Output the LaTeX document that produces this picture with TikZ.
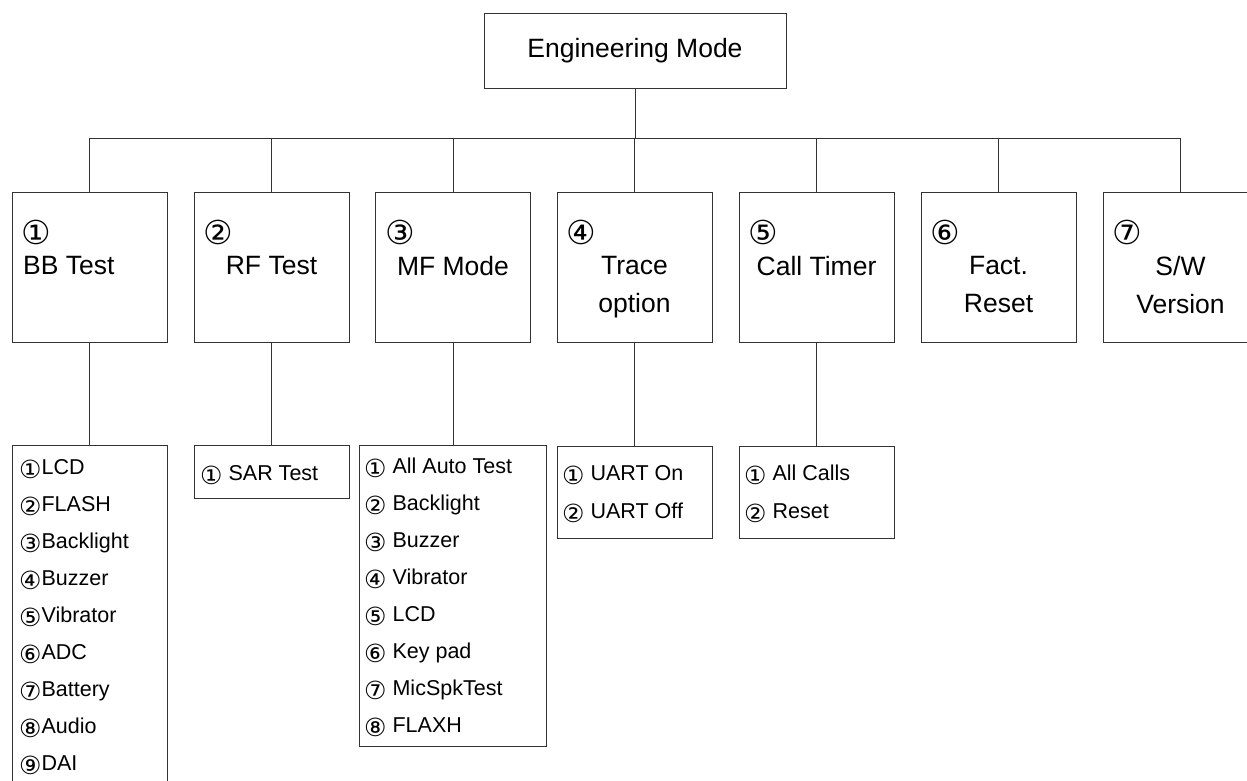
\documentclass[tikz,border=0pt]{standalone}
\usepackage{fontspec}
\setmainfont{Liberation Sans}
\newfontfamily\circfont{DejaVu Sans}
\usetikzlibrary{positioning}

\tikzset{
  box/.style={draw=black!80, line width=0.9pt, inner sep=0pt, minimum width=155pt},
  head/.style={font=\fontsize{26.5}{38}\selectfont, inner sep=0pt, align=center},
  num/.style={font=\circfont\fontsize{33}{33}\selectfont, inner sep=0pt, anchor=west},
  item/.style={font=\fontsize{21.5}{26}\selectfont, inner sep=0pt, anchor=base west},
  link/.style={draw=black!80, line width=0.9pt}
}
\newcommand{\subnum}[1]{\raisebox{-4pt}{\circfont\fontsize{25}{25}\selectfont #1}}

\begin{document}
\begin{tikzpicture}[x=1pt, y=-1pt]
\useasboundingbox (0,0) rectangle (1247,780);

% Top box
\node[box, minimum width=302pt, minimum height=75pt, font=\fontsize{26.5}{30}\selectfont] (eng) at (635,50.5) {Engineering Mode};
\coordinate (bus) at (0,138);

% Menu boxes
\foreach \nm/\cx/\c/\t/\tx/\ta in {bb/89.5/①/{BB Test}/23/north west, rf/271.5/②/{RF Test}/271.5/north,
    mf/453/③/{MF Mode}/453/north, tr/634.5/④/{Trace\\option}/634.5/north,
    ct/816.5/⑤/{Call Timer}/816.5/north, fr/998.5/⑥/{Fact.\\Reset}/998.5/north,
    sw/1180.5/⑦/{S/W\\Version}/1180.5/north}{
  \node[box, minimum height=150pt] (\nm) at (\cx,267) {};
  \node[num] (\nm-num) at (\cx-68,232) {\c};
  \node[head, anchor=\ta] (\nm-txt) at (\tx,256) {\t};
  \draw[link] (\nm.north) -- (\nm.north |- bus);
}
\draw[link] (eng.south) -- (eng.south |- bus);
\draw[link] (bb.north |- bus) -- (sw.north |- bus);

% BB Test list
\node[box, minimum height=345pt, anchor=north] (bb-sub) at (89.5,445) {};
\foreach \c/\t [count=\i from 0] in {①/LCD, ②/FLASH, ③/Backlight, ④/Buzzer, ⑤/Vibrator,
    ⑥/ADC, ⑦/Battery, ⑧/Audio, ⑨/DAI}
  \node[item] (bb-i\i) at (19,474+37*\i) {\subnum{\c}\t};

% RF Test list
\node[box, minimum height=53pt, anchor=north] (rf-sub) at (271.5,445) {};
\node[item] (rf-i0) at (200,480) {\subnum{①} SAR Test};

% MF Mode list
\node[box, minimum width=187pt, minimum height=301pt, anchor=north] (mf-sub) at (453,445) {};
\foreach \c/\t [count=\i from 0] in {①/All Auto Test, ②/Backlight, ③/Buzzer, ④/Vibrator,
    ⑤/LCD, ⑥/Key pad, ⑦/MicSpkTest, ⑧/FLAXH}
  \node[item] (mf-i\i) at (364,473+37*\i) {\subnum{\c} \t};

% Trace option list
\node[box, minimum height=92pt, anchor=north] (tr-sub) at (634.5,446) {};
\node[item] (tr-i0) at (562,480) {\subnum{①} UART On};
\node[item] (tr-i1) at (562,518) {\subnum{②} UART Off};

% Call Timer list
\node[box, minimum height=92pt, anchor=north] (ct-sub) at (816.5,446) {};
\node[item] (ct-i0) at (744,480) {\subnum{①} All Calls};
\node[item] (ct-i1) at (744,518) {\subnum{②} Reset};

% Links to lists
\foreach \nm in {bb,rf,mf,tr,ct}
  \draw[link] (\nm) -- (\nm-sub);
\end{tikzpicture}
\end{document}
